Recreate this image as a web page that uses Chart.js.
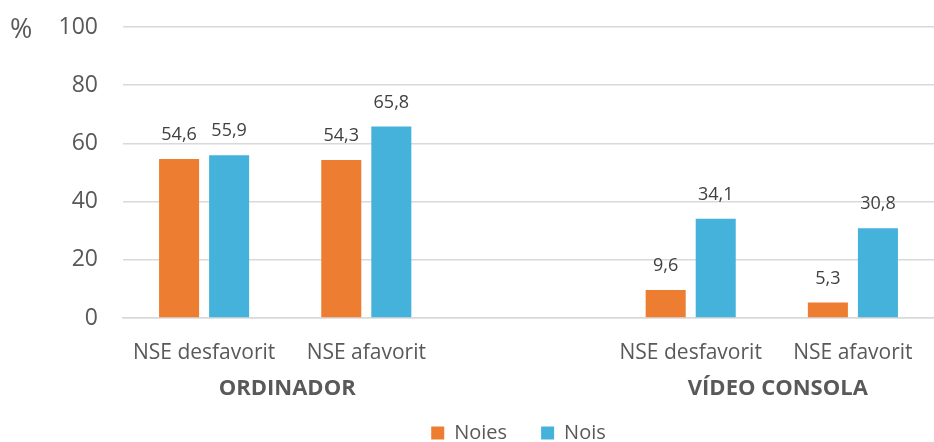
<!DOCTYPE html>
<html>
<head>
<meta charset="utf-8">
<script src="https://cdn.jsdelivr.net/npm/chart.js@4.4.0/dist/chart.umd.min.js"></script>
<style>
  html, body { margin: 0; padding: 0; background: #fff; }
  #wrap { width: 934px; height: 442px; }
</style>
</head>
<body>
<div id="wrap"><canvas id="mycanvas" width="934" height="442"></canvas></div>
<script>
// categories (the empty one is the gap between the two groups)
var categories = ['NSE desfavorit', 'NSE afavorit', '', 'NSE desfavorit', 'NSE afavorit'];
var groupLabels = ['ORDINADOR', 'VÍDEO CONSOLA'];
var noies = [54.6, 54.3, null, 9.6, 5.3];
var nois = [55.9, 65.8, null, 34.1, 30.8];
var yTicks = [0, 20, 40, 60, 80, 100];

var textColor = '#595959';
var font = '"Open Sans", sans-serif';

// value labels above each bar, decimal comma
var barLabels = {
  id: 'barLabels',
  afterDatasetsDraw: function(chart) {
    var ctx = chart.ctx;
    ctx.save();
    ctx.font = '18px ' + font;
    ctx.fillStyle = '#404040';
    ctx.textAlign = 'center';
    ctx.textBaseline = 'bottom';
    chart.data.datasets.forEach(function(ds, i) {
      var meta = chart.getDatasetMeta(i);
      meta.data.forEach(function(bar, j) {
        if (ds.data[j] == null) return;
        ctx.fillText(ds.data[j].toFixed(1).replace('.', ','), bar.x, bar.y - 15);
      });
    });
    ctx.restore();
  }
};

// "%" unit, group names under the tick labels, legend nudged left
var extraText = {
  id: 'extraText',
  afterLayout: function(chart) {
    chart.legend.left -= 10;
    chart.legend.right -= 10;
  },
  afterDraw: function(chart) {
    var ctx = chart.ctx;
    var x = chart.scales.x;
    ctx.save();
    ctx.fillStyle = textColor;
    ctx.font = '27px ' + font;
    ctx.textAlign = 'left';
    ctx.textBaseline = 'middle';
    ctx.fillText('%', 10, 30);
    ctx.font = 'bold 22px ' + font;
    ctx.textAlign = 'center';
    var g1 = (x.getPixelForValue(0) + x.getPixelForValue(1)) / 2;
    var g2 = (x.getPixelForValue(3) + x.getPixelForValue(4)) / 2;
    ctx.fillText(groupLabels[0], g1 + 2, 389);
    ctx.fillText(groupLabels[1], g2 + 6, 389);
    ctx.restore();
  }
};

var ctx = document.getElementById('mycanvas');
var dashboard = new Chart(ctx, {
  type: 'bar',
  data: {
    labels: categories,
    datasets: [
      { label: 'Noies', data: noies, backgroundColor: '#ED7D31' },
      { label: 'Nois', data: nois, backgroundColor: '#44B2DA' }
    ]
  },
  options: {
    responsive: false,
    animation: false,
    layout: { padding: 0 },
    categoryPercentage: 0.617,
    barPercentage: 0.8,
    plugins: {
      legend: {
        position: 'bottom',
        fullSize: false,
        maxHeight: 53,
        labels: {
          boxWidth: 13, boxHeight: 13, padding: 34,
          color: textColor,
          font: { size: 20, family: font }
        }
      },
      tooltip: { enabled: false }
    },
    scales: {
      x: {
        grid: { display: false },
        border: { color: '#d9d9d9', width: 1.5 },
        ticks: {
          color: textColor, padding: 14, maxRotation: 0, autoSkip: false,
          font: { size: 21, family: font }
        },
        afterFit: function(scale) { scale.height = 71; }
      },
      y: {
        min: 0, max: 100,
        afterBuildTicks: function(scale) {
          scale.ticks = yTicks.map(function(v) { return { value: v }; });
        },
        grid: { color: '#d9d9d9', lineWidth: 1.5, drawTicks: false },
        border: { display: false },
        ticks: {
          color: textColor, padding: 25,
          font: { size: 23, family: font }
        },
        afterFit: function(scale) {
          scale.width = 123;
          scale.paddingTop = 27;
          scale.paddingBottom = 14;
        }
      }
    }
  },
  plugins: [barLabels, extraText]
});
</script>
</body>
</html>
